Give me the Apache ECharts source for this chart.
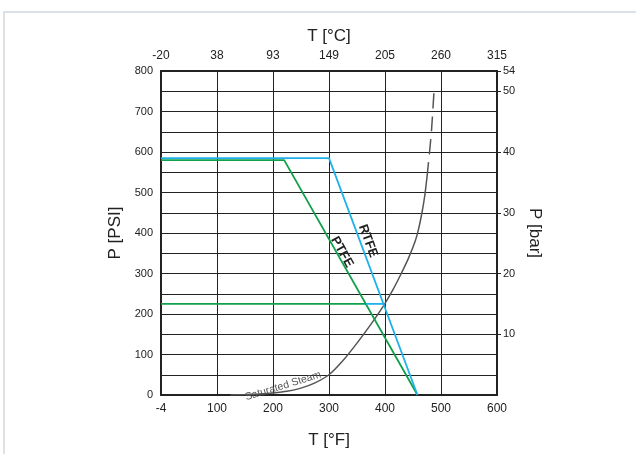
<!DOCTYPE html>
<html>
<head>
<meta charset="utf-8">
<script src="https://cdn.jsdelivr.net/npm/echarts@6/dist/echarts.min.js"></script>
<style>
html,body{margin:0;padding:0;background:#fff;}
#c{width:636px;height:454px;}
</style>
</head>
<body>
<div id="c"></div>
<script>
// Tick labels
const fTickLabels = ['-4','100','200','300','400','500','600'];
const cTickLabels = ['-20','38','93','149','205','260','315'];
const barTickPsi = [150, 300, 450, 600, 750, 800];
const barTickLabels = ['10','20','30','40','50','54'];

// Series (x = position on °F scale, y = PSI)
const rtfeTop = [[0,585],[300,585],[458,0]];
const ptfeTop = [[0,580],[220,580],[458,0]];
const ptfeLow = [[0,225],[366,225]];
const rtfeLow = [[366,225],[399,225]];
const steamSolid = [[124,0],[150,1],[175,2.5],[200,5],[225,9],[250,17],[275,30],[300,50],[325,85],[350,128],[375,175],[399,224],[415,262],[429,300],[442,338],[454,380],[460,410],[466,450],[471,492],[475,538]];
const steamDashed = [[475,538],[479,592],[483,652],[488,761]];

const font = "'Liberation Sans', Arial, sans-serif";
const chart = echarts.init(document.getElementById('c'), null, {renderer:'canvas'});
const lineStyleDark = {color:'#222', width:1};
chart.setOption({
  animation:false,
  backgroundColor:'#fff',
  textStyle:{fontFamily:font},
  grid:{left:161, top:71, width:336, height:329, show:false},
  xAxis:[
    {type:'value', position:'bottom', min:0, max:600, interval:100,
     axisLine:{show:true, onZero:false, lineStyle:{color:'#222', width:2}},
     axisTick:{show:false},
     splitLine:{show:true, lineStyle:lineStyleDark},
     axisLabel:{color:'#222', fontSize:12, margin:8, formatter:v=>fTickLabels[Math.round(v/100)]},
     name:'T [°F]', nameLocation:'middle', nameGap:37, nameTextStyle:{fontSize:17, color:'#222'}},
    {type:'value', position:'top', min:0, max:600, interval:100,
     axisLine:{show:true, onZero:false, lineStyle:{color:'#222', width:2}},
     axisTick:{show:false},
     splitLine:{show:false},
     axisLabel:{color:'#222', fontSize:12, margin:9, formatter:v=>cTickLabels[Math.round(v/100)]},
     name:'T [°C]', nameLocation:'middle', nameGap:26, nameTextStyle:{fontSize:17, color:'#222'}}
  ],
  yAxis:[
    {type:'value', position:'left', min:0, max:800, interval:50,
     axisLine:{show:true, onZero:false, lineStyle:{color:'#222', width:2}},
     axisTick:{show:false},
     splitLine:{show:true, lineStyle:lineStyleDark},
     axisLabel:{color:'#222', fontSize:11, margin:8, formatter:v=>(v%100===0?String(v):'')},
     name:'P [PSI]', nameLocation:'middle', nameGap:36, nameRotate:90, nameTextStyle:{fontSize:17, color:'#222'}},
    {type:'value', position:'right', min:0, max:800, interval:50,
     axisLine:{show:true, onZero:false, lineStyle:{color:'#222', width:2}},
     axisTick:{show:true, inside:false, length:4, customValues:barTickPsi, lineStyle:{color:'#222'}},
     splitLine:{show:false},
     axisLabel:{color:'#222', fontSize:11, margin:6, customValues:barTickPsi,
       formatter:v=>{const i=barTickPsi.indexOf(v);return i>=0?barTickLabels[i]:'';}},
     name:'P [bar]', nameLocation:'middle', nameGap:26, nameRotate:-90, nameTextStyle:{fontSize:17, color:'#222'}}
  ],
  series:[
    {type:'line', data:steamSolid, smooth:0.2, symbol:'none', lineStyle:{color:'#555', width:1.5}, z:3},
    {type:'line', data:steamDashed, smooth:0.2, symbol:'none', lineStyle:{color:'#555', width:1.5, type:[15,8]}, z:3},
    {type:'line', data:ptfeTop, symbol:'none', lineStyle:{color:'#0fa04b', width:1.8}, z:4},
    {type:'line', data:ptfeLow, symbol:'none', lineStyle:{color:'#0fa04b', width:1.8}, z:4},
    {type:'line', data:rtfeTop, symbol:'none', lineStyle:{color:'#1eb1ea', width:1.8}, z:5},
    {type:'line', data:rtfeLow, symbol:'none', lineStyle:{color:'#1eb1ea', width:1.8}, z:5}
  ],
  graphic:[
    {type:'rect', shape:{x:3, y:11, width:640, height:2}, style:{fill:'#dde2e6'}, z:0},
    {type:'rect', shape:{x:3, y:11, width:2, height:460}, style:{fill:'#dde2e6'}, z:0},
    {type:'text', x:368, y:241, rotation:-70*Math.PI/180,
     style:{text:'RTFE', font:"bold 13px "+font, fill:'#222', align:'center', verticalAlign:'middle'}, z:10},
    {type:'text', x:342, y:252, rotation:-61*Math.PI/180,
     style:{text:'PTFE', font:"bold 13px "+font, fill:'#222', align:'center', verticalAlign:'middle'}, z:10},
    {type:'text', x:283, y:386, rotation:17*Math.PI/180,
     style:{text:'Saturated Steam', font:"10.5px "+font, fill:'#555', align:'center', verticalAlign:'middle'}, z:10}
  ]
});
</script>
</body>
</html>
